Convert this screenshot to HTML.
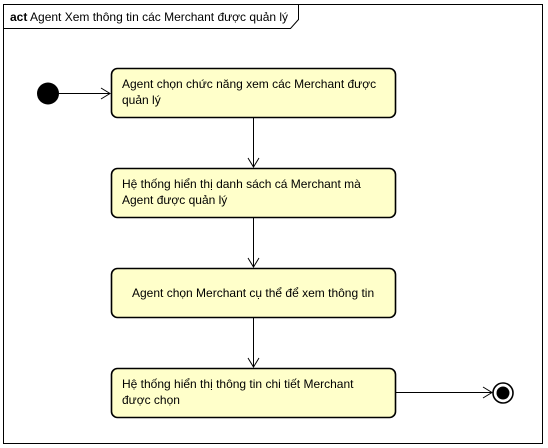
<!DOCTYPE html>
<html><head><meta charset="utf-8"><style>
html,body{margin:0;padding:0;background:#fff;}
svg{display:block;}
text{font-family:"Liberation Sans","DejaVu Sans",sans-serif;font-size:12px;fill:#000;}
</style></head><body>
<svg width="548" height="448" viewBox="0 0 548 448" xmlns="http://www.w3.org/2000/svg">
<rect x="3.5" y="4.5" width="539" height="439" fill="#fff" stroke="#000" stroke-width="1"/>
<path d="M3.5 28.5 H290.5 L298.5 19.5 V4.5" fill="none" stroke="#000"/>
<text x="10" y="21"><tspan font-weight="bold">act</tspan> Agent Xem thông tin các Merchant được quản lý</text>

<g fill="#ffffca" stroke="#000" stroke-width="1.6">
<rect x="111.5" y="68.5" width="284" height="49" rx="6"/>
<rect x="111.5" y="168.5" width="284" height="49" rx="6"/>
<rect x="111.5" y="268.5" width="284" height="49" rx="6"/>
<rect x="111.5" y="368.5" width="284" height="49" rx="6"/>
</g>
<text x="122" y="88">Agent chọn chức năng xem các Merchant được</text>
<text x="122" y="104">quản lý</text>
<text x="122" y="188">Hệ thống hiển thị danh sách cá Merchant mà</text>
<text x="122" y="204">Agent được quản lý</text>
<text x="132" y="297">Agent chọn Merchant cụ thể để xem thông tin</text>
<text x="122" y="388">Hệ thống hiển thị thông tin chi tiết Merchant</text>
<text x="122" y="404">được chọn</text>

<g stroke="#000" fill="none" stroke-width="1">
<line x1="59" y1="93.5" x2="110" y2="93.5"/>
<path d="M101 88 L110 93.5 L101 99"/>
<line x1="253.5" y1="118" x2="253.5" y2="167"/>
<path d="M248 158 L253.5 167 L259 158"/>
<line x1="253.5" y1="218" x2="253.5" y2="267"/>
<path d="M248 258 L253.5 267 L259 258"/>
<line x1="253.5" y1="318" x2="253.5" y2="367"/>
<path d="M248 358 L253.5 367 L259 358"/>
<line x1="396" y1="392.5" x2="492" y2="392.5"/>
<path d="M483 387 L492 392.5 L483 398"/>
</g>
<circle cx="48" cy="93.5" r="11" fill="#000"/>
<circle cx="503" cy="393" r="10" fill="#fff" stroke="#000" stroke-width="1.6"/>
<circle cx="503" cy="393" r="6.5" fill="#000"/>
</svg>
</body></html>
